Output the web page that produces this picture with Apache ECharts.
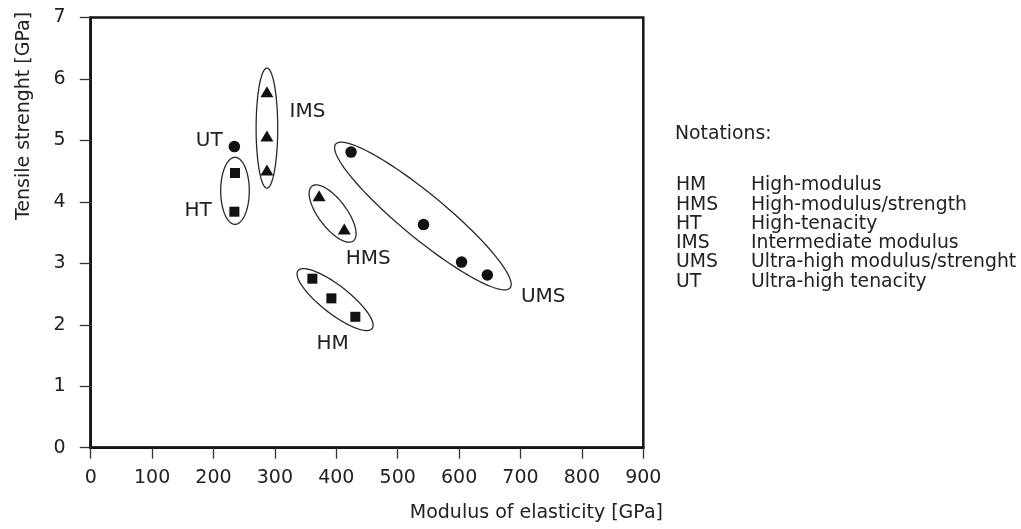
<!DOCTYPE html>
<html>
<head>
<meta charset="utf-8">
<script src="https://cdn.jsdelivr.net/npm/echarts@6/dist/echarts.min.js"></script>
<style>html,body{margin:0;padding:0;background:#fff;}#c{width:1021px;height:529px;}</style>
</head>
<body>
<div id="c"></div>
<script>
// ---- data ----
const xTicks = [0, 100, 200, 300, 400, 500, 600, 700, 800, 900];
const yTicks = [0, 1, 2, 3, 4, 5, 6, 7];
const UT  = [[234, 4.90]];
const HT  = [[235, 4.47], [234, 3.84]];
const IMS = [[287, 5.79], [287, 5.07], [287, 4.52]];
const HMS = [[372, 4.10], [413, 3.56]];
const UMS = [[424, 4.81], [542, 3.63], [604, 3.02], [646, 2.81]];
const HM  = [[361, 2.75], [392, 2.43], [431, 2.13]];
const groupNames = ['UT', 'IMS', 'HT', 'HMS', 'UMS', 'HM'];
const groupLabelAt = [[193, 4.99], [353, 5.46], [175, 3.855], [452, 3.07], [737, 2.45], [394, 1.69]];
// ellipse outlines: centre (data), semi-axes (px), tilt (deg)
const ellipseCentres = [[235, 4.18], [287, 5.20], [394, 3.81], [541, 3.77], [398, 2.41]];
const ellipseShape = [[33.5, 14.3, 90], [60, 10.8, 90], [34.3, 14, 53], [113, 22, 39.5], [47, 14, 38]];
const notationAbbr = ['HM', 'HMS', 'HT', 'IMS', 'UMS', 'UT'];
const notationText = ['High-modulus', 'High-modulus/strength', 'High-tenacity', 'Intermediate modulus', 'Ultra-high modulus/strenght', 'Ultra-high tenacity'];

const FONT = 'DejaVu Sans';
const TXT = '#222';
const chart = echarts.init(document.getElementById('c'));

function scatter(data, symbol, size) {
  return { type: 'scatter', data: data, symbol: symbol, symbolSize: size,
    itemStyle: { color: '#111', opacity: 1 }, z: 5, silent: true };
}

const ellData = ellipseCentres.map((c, i) => c.concat(ellipseShape[i]));

const graphics = [
  { type: 'text', x: 24, y: 116, rotation: Math.PI / 2,
    style: { text: 'Tensile strenght [GPa]', font: '19px "' + FONT + '"', fill: TXT, textAlign: 'center', textVerticalAlign: 'middle' } },
  { type: 'text', x: 663, y: 513.5,
    style: { text: 'Modulus of elasticity [GPa]', font: '19px "' + FONT + '"', fill: TXT, textAlign: 'right', textVerticalAlign: 'middle' } },
  { type: 'text', x: 675, y: 134,
    style: { text: 'Notations:', font: '18.8px "' + FONT + '"', fill: TXT, textAlign: 'left', textVerticalAlign: 'middle' } }
];
notationAbbr.forEach((a, i) => {
  const y = 185.5 + i * 19.25;
  graphics.push({ type: 'text', x: 676, y: y,
    style: { text: a, font: '18.8px "' + FONT + '"', fill: TXT, textAlign: 'left', textVerticalAlign: 'middle' } });
  graphics.push({ type: 'text', x: 751, y: y,
    style: { text: notationText[i], font: '18.8px "' + FONT + '"', fill: TXT, textAlign: 'left', textVerticalAlign: 'middle' } });
});

chart.setOption({
  animation: false,
  backgroundColor: '#fff',
  grid: { left: 90.7, top: 17.5, right: 377.7, bottom: 81.3, show: true, borderColor: '#141414', borderWidth: 2.5, backgroundColor: 'transparent' },
  xAxis: {
    type: 'value', min: xTicks[0], max: xTicks[xTicks.length - 1], interval: 100,
    axisLine: { show: true, lineStyle: { color: '#141414', width: 2.5 } },
    axisTick: { show: true, inside: false, length: 11, lineStyle: { color: '#333', width: 1.3 } },
    axisLabel: { margin: 21, color: TXT, fontSize: 19, fontFamily: FONT },
    splitLine: { show: false }
  },
  yAxis: {
    type: 'value', min: yTicks[0], max: yTicks[yTicks.length - 1], interval: 1,
    axisLine: { show: true, lineStyle: { color: '#141414', width: 2.5 } },
    axisTick: { show: true, inside: false, length: 11, lineStyle: { color: '#333', width: 1.3 } },
    axisLabel: { margin: 25, color: TXT, fontSize: 19, fontFamily: FONT },
    splitLine: { show: false }
  },
  graphic: graphics,
  series: [
    {
      type: 'custom', data: ellData, clip: false, silent: true, z: 3,
      renderItem: function (params, api) {
        const c = api.coord([api.value(0), api.value(1)]);
        const a = api.value(2), b = api.value(3), th = api.value(4) * Math.PI / 180;
        const ux = Math.cos(th), uy = Math.sin(th), vx = -Math.sin(th), vy = Math.cos(th);
        const pts = [];
        for (let k = 0; k < 120; k++) {
          const t = k / 120 * Math.PI * 2;
          const ca = a * Math.cos(t), sb = b * Math.sin(t);
          pts.push([c[0] + ca * ux + sb * vx, c[1] + ca * uy + sb * vy]);
        }
        return { type: 'polygon', shape: { points: pts }, style: { fill: 'none', stroke: '#2a2a2a', lineWidth: 1.3 } };
      }
    },
    scatter(UT, 'circle', 11.5),
    scatter(HT, 'rect', 10),
    scatter(IMS, 'triangle', [13, 11]),
    scatter(HMS, 'triangle', [13, 11]),
    scatter(UMS, 'circle', 11.5),
    scatter(HM, 'rect', 10),
    {
      type: 'scatter', symbolSize: 0, silent: true, z: 6,
      itemStyle: { opacity: 1 },
      data: groupLabelAt.map((p, i) => ({ value: p, name: groupNames[i] })),
      label: { show: true, position: 'inside', formatter: '{b}', color: TXT, fontSize: 20, fontFamily: FONT }
    }
  ]
});
</script>
</body>
</html>
